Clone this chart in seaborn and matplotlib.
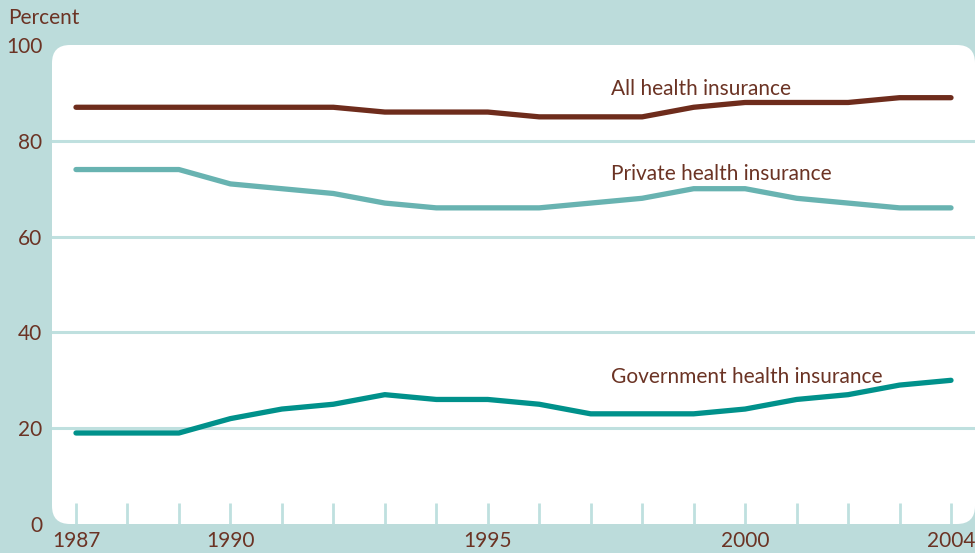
import numpy as np
import pandas as pd
import matplotlib
matplotlib.use("Agg")
import matplotlib.pyplot as plt
import seaborn as sns
from matplotlib.patches import FancyBboxPatch
from matplotlib.transforms import IdentityTransform

# Data
years = list(range(1987, 2005))
all_ins = [87, 87, 87, 87, 87, 87, 86, 86, 86, 85, 85, 85, 87, 88, 88, 88, 89, 89]
private_ins = [74, 74, 74, 71, 70, 69, 67, 66, 66, 66, 67, 68, 70, 70, 68, 67, 66, 66]
gov_ins = [19, 19, 19, 22, 24, 25, 27, 26, 26, 25, 23, 23, 23, 24, 26, 27, 29, 30]
series_names = ["All health insurance", "Private health insurance", "Government health insurance"]
label_years = [1987, 1990, 1995, 2000, 2004]
y_ticks = [0, 20, 40, 60, 80, 100]

bg = "#bcdcdb"
text_col = "#6b3324"
grid_col = "#bfe0df"
palette = {"All health insurance": "#6e2c1c",
           "Private health insurance": "#68b3b1",
           "Government health insurance": "#00918b"}

df = pd.DataFrame({"year": years * 3,
                   "value": all_ins + private_ins + gov_ins,
                   "series": np.repeat(series_names, len(years))})

sns.set_style("white")
plt.rcParams["font.family"] = ["Lato", "DejaVu Sans"]

fig = plt.figure(figsize=(9.75, 5.53), dpi=100, facecolor=bg)
ax = fig.add_axes([52 / 975, 29 / 553, 1 - 52 / 975, 479 / 553])
ax.set_facecolor("none")
ax.set_zorder(2)

# rounded white plot panel (pixel coords), drawn under the axes
panel = FancyBboxPatch((52, 29), 923, 479, boxstyle="round,pad=0,rounding_size=18",
                       transform=IdentityTransform(), facecolor="white", edgecolor="none", zorder=0)
fig.patches.append(panel)

for v in y_ticks[1:-1]:
    ax.axhline(v, color=grid_col, lw=2.2, zorder=1)

sns.lineplot(data=df, x="year", y="value", hue="series", palette=palette,
             linewidth=3.8, legend=False, ax=ax, zorder=3)
for line in ax.lines:
    line.set_solid_capstyle("round")
    line.set_solid_joinstyle("round")

ax.set_xlim(1987 - 24 / 51.5, 2004 + 24 / 51.5)
ax.set_ylim(0, 100)
ax.set_xticks(years)
ax.set_xticklabels([str(y) if y in label_years else "" for y in years])
ax.set_yticks(y_ticks)
ax.tick_params(axis="x", bottom=True, direction="in", length=15, width=2, color=grid_col,
               labelsize=15, labelcolor=text_col, pad=5)
ax.tick_params(axis="y", left=False, length=0, labelsize=15, labelcolor=text_col, pad=7)
ax.set_xlabel("")
ax.set_ylabel("")
for s in ax.spines.values():
    s.set_visible(False)

ax.text(1997.4, 90.8, "All health insurance", color=text_col, fontsize=15, va="center", ha="left")
ax.text(1997.4, 73.1, "Private health insurance", color=text_col, fontsize=15, va="center", ha="left")
ax.text(1997.4, 30.6, "Government health insurance", color=text_col, fontsize=15, va="center", ha="left")
fig.text(8 / 975, 1 - 18 / 553, "Percent", color=text_col, fontsize=15, va="center", ha="left")

fig.savefig("out.png", dpi=100, facecolor=bg)
